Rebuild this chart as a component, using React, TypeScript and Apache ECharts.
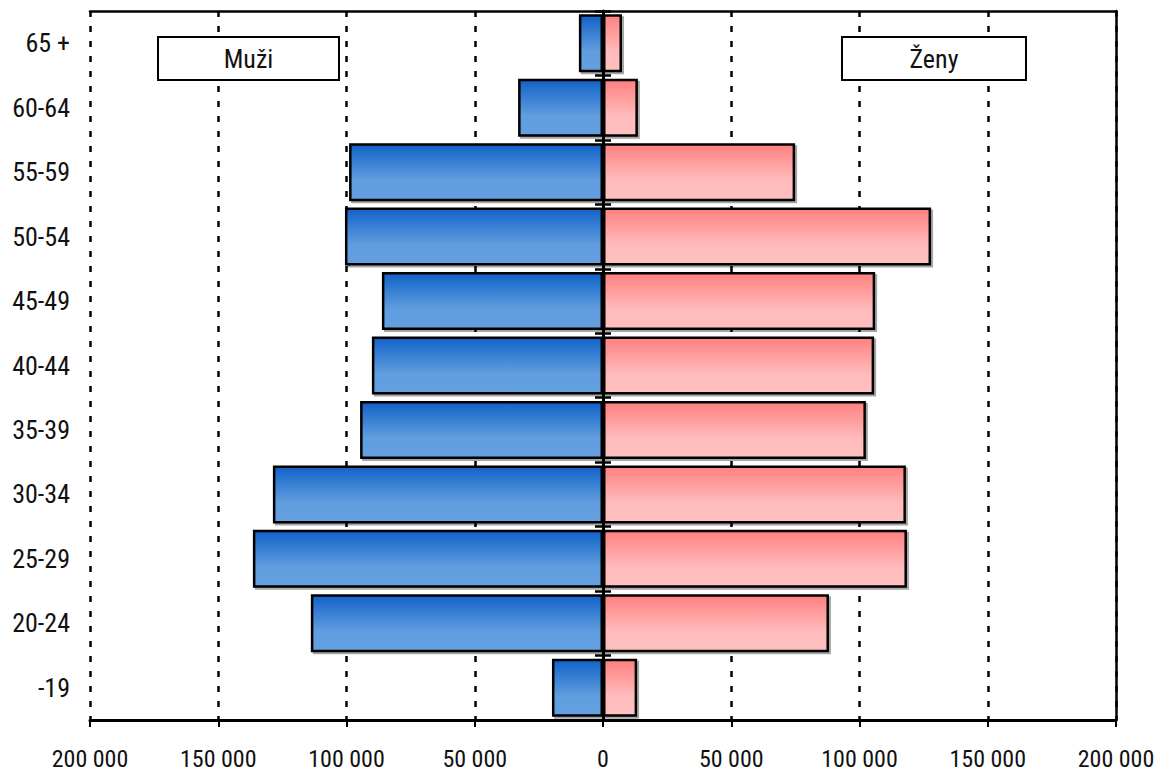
import React, { useEffect, useRef } from "react";
import * as echarts from "echarts";

const categories = ["-19", "20-24", "25-29", "30-34", "35-39", "40-44", "45-49", "50-54", "55-59", "60-64", "65 +"];
const male = [19900, 113900, 136500, 128700, 94700, 90100, 86200, 100600, 99000, 33100, 9400];
const female = [13300, 88100, 118500, 118100, 102500, 105700, 106100, 127900, 74900, 13600, 7400];
const legendNames = ["Muži", "Ženy"];

const FONT = "'Roboto Condensed', 'Liberation Sans Narrow', 'DejaVu Sans Condensed', sans-serif";

function fmt(v: number): string {
  const s = String(Math.abs(v));
  return s.replace(/\B(?=(\d{3})+(?!\d))/g, " ");
}

export default function App() {
  const ref = useRef<HTMLDivElement>(null);
  useEffect(() => {
    if (!ref.current) return;
    const chart = echarts.init(ref.current, undefined, { renderer: "svg" });
    const blueGrad = new echarts.graphic.LinearGradient(0, 0, 0, 1, [
      { offset: 0, color: "#1262C8" },
      { offset: 0.65, color: "#619EDF" },
      { offset: 1, color: "#64A0E0" },
    ]);
    const pinkGrad = new echarts.graphic.LinearGradient(0, 0, 0, 1, [
      { offset: 0, color: "#FF8080" },
      { offset: 0.65, color: "#FFBBBB" },
      { offset: 1, color: "#FFC0C0" },
    ]);
    const shadow = {
      shadowColor: "rgba(0,0,0,0.35)",
      shadowOffsetX: 2,
      shadowOffsetY: 2,
      shadowBlur: 1,
    };
    chart.setOption({
      animation: false,
      backgroundColor: "#ffffff",
      textStyle: { fontFamily: FONT },
      grid: { left: 90, right: 44, top: 11, bottom: 55, containLabel: false },
      xAxis: [
        {
          type: "value",
          min: -200000,
          max: 200000,
          interval: 50000,
          position: "bottom",
          axisLine: { show: true, onZero: false, lineStyle: { color: "#000", width: 3 } },
          axisTick: { show: true, length: 7, lineStyle: { color: "#000", width: 2 } },
          axisLabel: {
            formatter: (v: number) => fmt(v),
            fontSize: 24,
            color: "#111",
            margin: 27,
            fontFamily: FONT,
          },
          splitLine: {
            show: true,
            lineStyle: { color: "#000", width: 2.5, type: [6, 9] },
          },
        },
        {
          type: "value",
          min: -200000,
          max: 200000,
          interval: 50000,
          position: "top",
          axisLine: { show: true, onZero: false, lineStyle: { color: "#000", width: 2.5 } },
          axisTick: { show: false },
          axisLabel: { show: false },
          splitLine: { show: false },
        },
      ],
      yAxis: [
        {
          type: "category",
          data: categories,
          position: "left",
          axisLine: { show: false, onZero: false },
          axisTick: { show: false },
          axisLabel: { fontSize: 26, color: "#111", margin: 20, fontFamily: FONT },
          splitLine: { show: false },
        },
        {
          type: "category",
          data: categories,
          position: "left",
          axisLine: { show: true, onZero: true, onZeroAxisIndex: 0, lineStyle: { color: "#000", width: 3 } },
          axisTick: { show: true, length: 8, lineStyle: { color: "#000", width: 2.5 } },
          axisLabel: { show: false },
          splitLine: { show: false },
        },
        {
          type: "category",
          data: categories,
          position: "right",
          axisLine: { show: false, onZero: true, onZeroAxisIndex: 0 },
          axisTick: { show: true, length: 8, lineStyle: { color: "#000", width: 2.5 } },
          axisLabel: { show: false },
          splitLine: { show: false },
        },
        {
          type: "category",
          data: categories,
          position: "right",
          axisLine: { show: true, onZero: false, lineStyle: { color: "#000", width: 2.5 } },
          axisTick: { show: false },
          axisLabel: { show: false },
          splitLine: { show: false },
        },
      ],
      series: [
        {
          name: legendNames[0],
          type: "bar",
          xAxisIndex: 0,
          yAxisIndex: 0,
          data: male.map((v) => -v),
          barCategoryGap: "10%",
          barGap: "-100%",
          itemStyle: { color: blueGrad, borderColor: "#000", borderWidth: 2.5, ...shadow },
          z: 3,
        },
        {
          name: legendNames[1],
          type: "bar",
          xAxisIndex: 0,
          yAxisIndex: 0,
          data: female,
          barCategoryGap: "10%",
          barGap: "-100%",
          itemStyle: { color: pinkGrad, borderColor: "#000", borderWidth: 2.5, ...shadow },
          z: 3,
        },
      ],
      graphic: [
        {
          type: "rect",
          shape: { x: 158, y: 37, width: 181, height: 43 },
          style: { fill: "#fff", stroke: "#000", lineWidth: 2 },
          z: 10,
        },
        {
          type: "text",
          x: 248.5,
          y: 59,
          style: {
            text: legendNames[0],
            fontSize: 26,
            fontFamily: FONT,
            fill: "#111",
            align: "center",
            verticalAlign: "middle",
          },
          z: 11,
        },
        {
          type: "rect",
          shape: { x: 842, y: 37, width: 184, height: 43 },
          style: { fill: "#fff", stroke: "#000", lineWidth: 2 },
          z: 10,
        },
        {
          type: "text",
          x: 934,
          y: 59,
          style: {
            text: legendNames[1],
            fontSize: 26,
            fontFamily: FONT,
            fill: "#111",
            align: "center",
            verticalAlign: "middle",
          },
          z: 11,
        },
      ],
    });
    return () => chart.dispose();
  }, []);
  return (
    <div
      ref={ref}
      style={{ position: "fixed", left: 0, top: 0, width: 1160, height: 775, background: "#fff" }}
    />
  );
}
